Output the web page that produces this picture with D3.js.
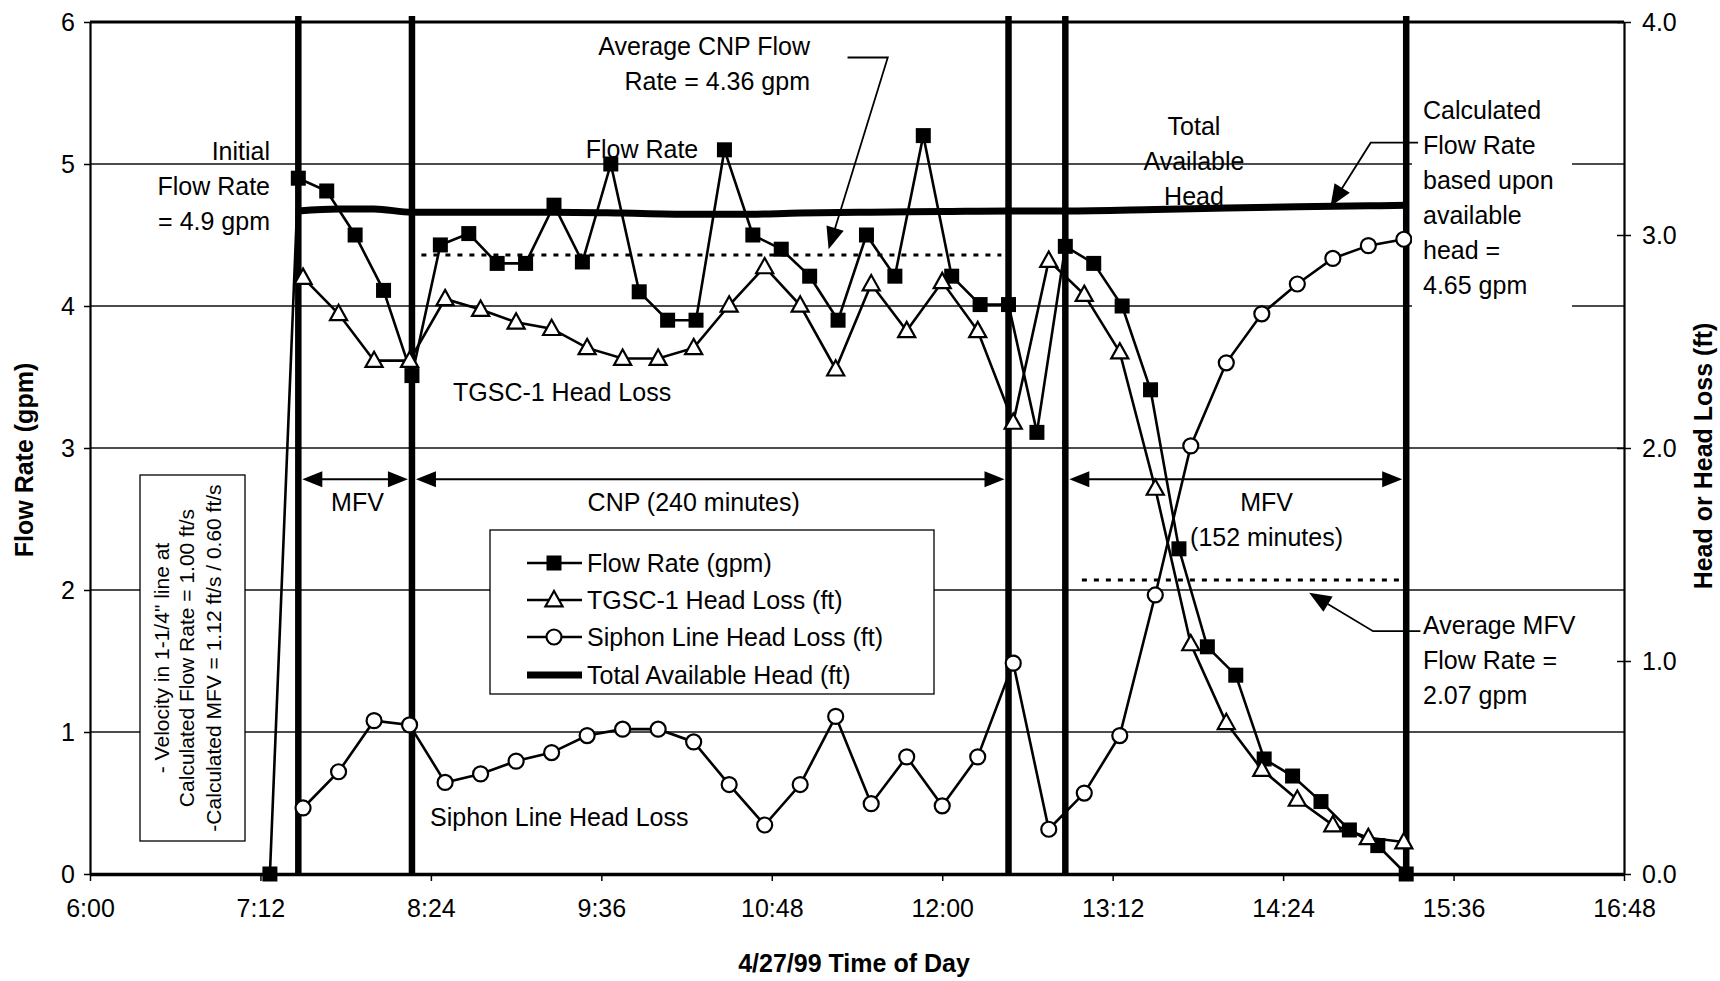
<!DOCTYPE html>
<html><head><meta charset="utf-8">
<script src="https://cdn.jsdelivr.net/npm/d3@7"></script>
<style>
html,body{margin:0;padding:0;background:#fff;}
svg{display:block;}
text{font-family:"Liberation Sans", Arial, sans-serif; fill:#000;}
</style></head><body>
<svg id="chart" width="1720" height="981"></svg>
<script>
// ---------------- DATA ----------------
const xTickLabels = ["6:00","7:12","8:24","9:36","10:48","12:00","13:12","14:24","15:36","16:48"];
const leftTickValues = [0,1,2,3,4,5,6];
const rightTickValues = [0,1,2,3,4];

const flowTimes = ["7:16","7:28","7:40","7:52","8:04","8:16","8:28","8:40","8:52","9:04","9:16","9:28","9:40","9:52","10:04","10:16","10:28","10:40","10:52","11:04","11:16","11:28","11:40","11:52","12:04","12:16","12:28","12:40","12:52","13:04","13:16","13:28","13:40","13:52","14:04","14:16","14:28","14:40","14:52","15:04","15:16"];
const flowRate = [0,4.90,4.81,4.50,4.11,3.51,4.43,4.51,4.30,4.30,4.71,4.31,5.00,4.10,3.90,3.90,5.10,4.50,4.40,4.21,3.90,4.50,4.21,5.20,4.21,4.01,4.01,3.11,4.42,4.30,4.00,3.41,2.29,1.60,1.40,0.81,0.69,0.51,0.31,0.20,0.00];

const headLossTimes = ["7:30","7:45","8:00","8:15","8:30","8:45","9:00","9:15","9:30","9:45","10:00","10:15","10:30","10:45","11:00","11:15","11:30","11:45","12:00","12:15","12:30","12:45","13:00","13:15","13:30","13:45","14:00","14:15","14:30","14:45","15:00","15:15"];
const tgscHeadLoss = [2.80,2.63,2.41,2.41,2.70,2.65,2.59,2.56,2.47,2.42,2.42,2.47,2.67,2.85,2.67,2.37,2.77,2.55,2.78,2.55,2.12,2.88,2.72,2.45,1.81,1.08,0.71,0.49,0.35,0.23,0.17,0.15];
const siphonHeadLoss = [0.31,0.48,0.72,0.70,0.43,0.47,0.53,0.57,0.65,0.68,0.68,0.62,0.42,0.23,0.42,0.74,0.33,0.55,0.32,0.55,0.99,0.21,0.38,0.65,1.31,2.01,2.40,2.63,2.77,2.89,2.95,2.98];

const availTimes = ["7:28","7:45","8:00","8:16","8:45","9:15","9:45","10:15","10:35","11:00","11:30","12:00","12:28","12:52","13:30","14:00","14:30","15:00","15:16"];
const availHead = [3.113,3.122,3.122,3.107,3.107,3.107,3.103,3.097,3.097,3.103,3.107,3.110,3.113,3.113,3.120,3.127,3.133,3.137,3.140];

const phaseBoundaries = ["7:28","8:16","12:28","12:52","15:16"];
const phases = [
  {from:"7:28", to:"8:16", labelAt:"7:53", lines:["MFV"]},
  {from:"8:16", to:"12:28", labelAt:"10:15", lines:["CNP (240 minutes)"]},
  {from:"12:52", to:"15:16", labelAt:"14:17", lines:["MFV","(152 minutes)"]}
];
const phaseArrowLevel = 2.78; // gpm

const cnpAverage = {from:"8:20", to:"12:25", value:4.36};
const mfvAverage = {from:"12:59", to:"15:15", value:2.07};

const legendLabels = ["Flow Rate (gpm)","TGSC-1 Head Loss (ft)","Siphon Line Head Loss (ft)","Total Available Head (ft)"];
const noteLines = ["- Velocity in 1-1/4\" line at","Calculated Flow Rate = 1.00 ft/s","-Calculated MFV = 1.12 ft/s / 0.60 ft/s"];

// ---------------- SETUP ----------------
const toMin = s => { const [h,m] = s.split(":").map(Number); return h*60+m; };
const fmtMin = m => Math.floor(m/60) + ":" + String(m%60).padStart(2,"0");

const L = 90, R = 1624, T = 22, B = 874;
const svg = d3.select("#chart");

const x = d3.scaleLinear().domain([toMin("6:00"), toMin("16:48")]).range([L, R]);
const yL = d3.scaleLinear().domain([0,6]).range([B, T]);
const yR = d3.scaleLinear().domain([0,4]).range([B, T]);

const FS = 25;
const LW = 2.6;

// gridlines
svg.append("g").selectAll("line").data(leftTickValues.filter(d => d>0 && d<6)).join("line")
  .attr("x1", L).attr("x2", R).attr("y1", d=>yL(d)).attr("y2", d=>yL(d))
  .attr("stroke", "#111").attr("stroke-width", 1.3);

// top border
svg.append("line").attr("x1", L).attr("x2", R).attr("y1", T).attr("y2", T)
  .attr("stroke", "#000").attr("stroke-width", 3);

// axes
const xAxis = svg.append("g").attr("transform", `translate(0,${B})`)
  .call(d3.axisBottom(x).tickValues(xTickLabels.map(toMin)).tickFormat(fmtMin).tickSizeInner(7).tickSizeOuter(0).tickPadding(18));
xAxis.select(".domain").attr("stroke-width", 3.5);
xAxis.selectAll(".tick line").attr("stroke-width", 1.5);
xAxis.selectAll("text").attr("font-size", FS).attr("font-family", "Liberation Sans");

const lAxis = svg.append("g").attr("transform", `translate(${L},0)`)
  .call(d3.axisLeft(yL).tickValues(leftTickValues).tickFormat(d3.format("d")).tickSizeInner(6).tickSizeOuter(0).tickPadding(9));
lAxis.select(".domain").attr("stroke-width", 2.2);
lAxis.selectAll(".tick line").attr("stroke-width", 1.5);
lAxis.selectAll("text").attr("font-size", FS).attr("font-family", "Liberation Sans");

const rAxis = svg.append("g").attr("transform", `translate(${R},0)`)
  .call(d3.axisRight(yR).tickValues(rightTickValues).tickFormat(d3.format(".1f")).tickSizeInner(7).tickSizeOuter(0).tickPadding(11));
rAxis.select(".domain").attr("stroke-width", 2.2);
rAxis.selectAll(".tick line").attr("x1", -7).attr("stroke-width", 1.5);
rAxis.selectAll("text").attr("font-size", FS).attr("font-family", "Liberation Sans");

// axis titles
svg.append("text").attr("transform", `translate(24,${(T+B)/2+12}) rotate(-90)`)
  .attr("text-anchor","middle").attr("dominant-baseline","central")
  .attr("font-weight","bold").attr("font-size", FS).text("Flow Rate (gpm)");
svg.append("text").attr("transform", `translate(1703,456) rotate(-90)`)
  .attr("text-anchor","middle").attr("dominant-baseline","central")
  .attr("font-weight","bold").attr("font-size", FS).text("Head or Head Loss (ft)");
svg.append("text").attr("x", 854).attr("y", 963)
  .attr("text-anchor","middle").attr("dominant-baseline","central")
  .attr("font-weight","bold").attr("font-size", FS).text("4/27/99 Time of Day");

// note box
const note = svg.append("g");
note.append("rect").attr("x", 140).attr("y", 475).attr("width", 105).attr("height", 366)
  .attr("fill","#fff").attr("stroke","#000").attr("stroke-width",1.3);
const noteX = [161, 186, 213];
noteLines.forEach((t,i) => {
  note.append("text").attr("transform", `translate(${noteX[i]},658) rotate(-90)`)
    .attr("text-anchor","middle").attr("dominant-baseline","central")
    .attr("font-size", 21).text(t);
});

// phase boundary thick lines
svg.append("g").selectAll("line").data(phaseBoundaries).join("line")
  .attr("x1", d=>x(toMin(d))).attr("x2", d=>x(toMin(d)))
  .attr("y1", T-6).attr("y2", B+2)
  .attr("stroke","#000").attr("stroke-width", 6.5);

// arrowhead helper
function arrowHead(g, x0, y0, x1, y1, len=20, half=8) {
  const a = Math.atan2(y1-y0, x1-x0);
  const bx = x1 - len*Math.cos(a), by = y1 - len*Math.sin(a);
  const px = -Math.sin(a)*half, py = Math.cos(a)*half;
  g.append("path").attr("d", `M${x1},${y1}L${bx+px},${by+py}L${bx-px},${by-py}Z`).attr("fill","#000");
}

// phase arrows
const pa = svg.append("g");
phases.forEach(p => {
  const xa = x(toMin(p.from)) + 4, xb = x(toMin(p.to)) - 4, yy = yL(phaseArrowLevel);
  pa.append("line").attr("x1", xa+10).attr("x2", xb-10).attr("y1", yy).attr("y2", yy)
    .attr("stroke","#000").attr("stroke-width",1.8);
  arrowHead(pa, xa+30, yy, xa, yy, 20, 8);
  arrowHead(pa, xb-30, yy, xb, yy, 20, 8);
  p.lines.forEach((t,i) => {
    pa.append("text").attr("x", x(toMin(p.labelAt))).attr("y", yy + 23 + i*35)
      .attr("text-anchor","middle").attr("dominant-baseline","central")
      .attr("font-size", FS).text(t);
  });
});

// averages (dotted)
[cnpAverage, mfvAverage].forEach(a => {
  svg.append("line").attr("x1", x(toMin(a.from))).attr("x2", x(toMin(a.to)))
    .attr("y1", yL(a.value)).attr("y2", yL(a.value))
    .attr("stroke","#000").attr("stroke-width",3).attr("stroke-dasharray","5,7");
});

// series
const flowData = flowTimes.map((t,i)=>({t:toMin(t), v:flowRate[i]}));
const tgscData = headLossTimes.map((t,i)=>({t:toMin(t), v:tgscHeadLoss[i]}));
const siphonData = headLossTimes.map((t,i)=>({t:toMin(t), v:siphonHeadLoss[i]}));
const availData = availTimes.map((t,i)=>({t:toMin(t), v:availHead[i]}));

const lineL = d3.line().x(d=>x(d.t)).y(d=>yL(d.v));
const lineR = d3.line().x(d=>x(d.t)).y(d=>yR(d.v));
const lineRc = d3.line().x(d=>x(d.t)).y(d=>yR(d.v)).curve(d3.curveMonotoneX);

svg.append("path").datum(flowData).attr("d", lineL).attr("fill","none").attr("stroke","#000").attr("stroke-width",LW);
svg.append("path").datum(tgscData).attr("d", lineR).attr("fill","none").attr("stroke","#000").attr("stroke-width",LW);
svg.append("path").datum(siphonData).attr("d", lineR).attr("fill","none").attr("stroke","#000").attr("stroke-width",LW);
svg.append("path").datum(availData).attr("d", lineRc).attr("fill","none").attr("stroke","#000").attr("stroke-width",7);

const SQ = 15;
svg.append("g").selectAll("rect").data(flowData).join("rect")
  .attr("x", d=>x(d.t)-SQ/2).attr("y", d=>yL(d.v)-SQ/2).attr("width",SQ).attr("height",SQ).attr("fill","#000");
const triPath = (cx, cy, s=9) => `M${cx},${cy-s}L${cx+s*0.95},${cy+s*0.7}L${cx-s*0.95},${cy+s*0.7}Z`;
svg.append("g").selectAll("path").data(tgscData).join("path")
  .attr("d", d=>triPath(x(d.t), yR(d.v))).attr("fill","#fff").attr("stroke","#000").attr("stroke-width",2.2);
svg.append("g").selectAll("circle").data(siphonData).join("circle")
  .attr("cx", d=>x(d.t)).attr("cy", d=>yR(d.v)).attr("r",7.5).attr("fill","#fff").attr("stroke","#000").attr("stroke-width",2.2);

// legend
const lg = svg.append("g");
lg.append("rect").attr("x",490).attr("y",530).attr("width",444).attr("height",164)
  .attr("fill","#fff").attr("stroke","#000").attr("stroke-width",1.3);
const legY = [563, 600, 637, 675];
legendLabels.forEach((lab,i) => {
  const y = legY[i];
  lg.append("line").attr("x1",527).attr("x2",582).attr("y1",y).attr("y2",y)
    .attr("stroke","#000").attr("stroke-width", i===3 ? 7 : LW);
  if (i===0) lg.append("rect").attr("x",554-SQ/2).attr("y",y-SQ/2).attr("width",SQ).attr("height",SQ).attr("fill","#000");
  if (i===1) lg.append("path").attr("d", triPath(554,y)).attr("fill","#fff").attr("stroke","#000").attr("stroke-width",2.2);
  if (i===2) lg.append("circle").attr("cx",554).attr("cy",y).attr("r",7.5).attr("fill","#fff").attr("stroke","#000").attr("stroke-width",2.2);
  lg.append("text").attr("x",587).attr("y",y).attr("dominant-baseline","central").attr("font-size",FS).text(lab);
});

// annotations
const ann = svg.append("g");
function textBlock(lines, tx, ty, anchor, dy=35) {
  lines.forEach((t,i)=> ann.append("text").attr("x",tx).attr("y",ty+i*dy)
    .attr("text-anchor",anchor).attr("dominant-baseline","central").attr("font-size",FS).text(t));
}
// white box behind right callout text
ann.append("rect").attr("x",1412).attr("y",88).attr("width",160).attr("height",225).attr("fill","#fff");

textBlock(["Initial","Flow Rate","= 4.9 gpm"], 270, 151, "end");
textBlock(["Average CNP Flow","Rate = 4.36 gpm"], 810, 46, "end");
textBlock(["Flow Rate"], 642, 149, "middle");
textBlock(["Total","Available","Head"], 1194, 126, "middle");
textBlock(["TGSC-1 Head Loss"], 453, 392, "start");
textBlock(["Siphon Line Head Loss"], 430, 817, "start");
textBlock(["Calculated","Flow Rate","based upon","available","head =","4.65 gpm"], 1423, 110, "start");
textBlock(["Average MFV","Flow Rate =","2.07 gpm"], 1423, 625, "start");

// callout leaders (defined in data coordinates: time, gpm)
const callouts = [
  [["11:20",5.75],["11:37",5.75],["11:12",4.40]],
  [["15:21",5.15],["15:01",5.15],["14:44",4.70]],
  [["15:22",1.71],["15:02",1.71],["14:35",1.98]]
];
callouts.forEach(c => {
  const pts = c.map(([t,v]) => [x(toMin(t)), yL(v)]);
  const n = pts.length;
  const a = pts[n-2], b = pts[n-1];
  const ang = Math.atan2(b[1]-a[1], b[0]-a[0]);
  const trimmed = pts.slice(0, n-1).concat([[b[0]-12*Math.cos(ang), b[1]-12*Math.sin(ang)]]);
  ann.append("path").attr("d", d3.line()(trimmed)).attr("fill","none").attr("stroke","#000").attr("stroke-width",1.8);
  arrowHead(ann, a[0], a[1], b[0], b[1], 22, 9);
});
</script>
</body></html>
